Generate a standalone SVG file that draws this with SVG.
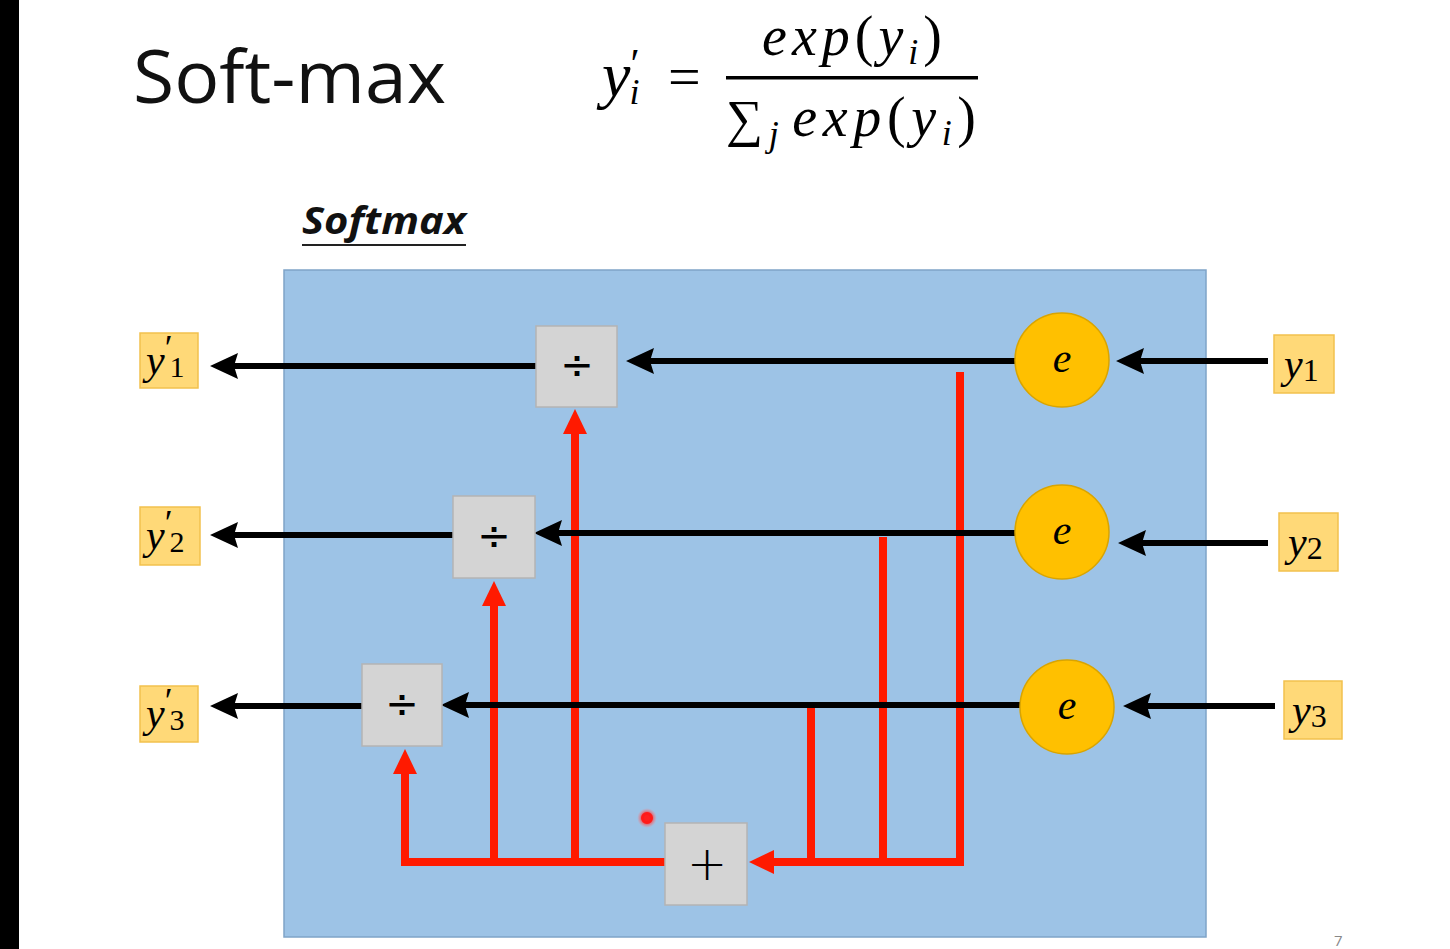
<svg xmlns="http://www.w3.org/2000/svg" width="1450" height="949" viewBox="0 0 1450 949">
<defs>
<style>
.var{font-family:"Liberation Serif","DejaVu Serif",serif;font-style:italic;fill:#000}
.up{font-family:"Liberation Serif","DejaVu Serif",serif;fill:#000}
.lbl{fill:#ffd978;stroke:#f2c14e;stroke-width:1.5}
.op{fill:#d4d4d4;stroke:#b4b4b4;stroke-width:1.5}
.circ{fill:#ffc000;stroke:#d9a400;stroke-width:1.5}
.blk{stroke:#000;stroke-width:6;fill:none;marker-end:url(#ab)}
.red{stroke:#ff1a00;stroke-width:8;fill:none}
.reda{stroke:#ff1a00;stroke-width:8;fill:none;marker-end:url(#ar)}
.sym{font-family:"DejaVu Sans","Liberation Sans",sans-serif;fill:#000;text-anchor:middle}
</style>
<marker id="ab" markerUnits="userSpaceOnUse" markerWidth="30" markerHeight="28" viewBox="0 0 30 28" refX="6" refY="14" orient="auto">
<path d="M0,1 L28,14 L0,27 L4,14 z" fill="#000"/>
</marker>
<marker id="ar" markerUnits="userSpaceOnUse" markerWidth="26" markerHeight="26" viewBox="0 0 26 26" refX="6" refY="13" orient="auto">
<path d="M0,1 L25,13 L0,25 z" fill="#ff1a00"/>
</marker>
<radialGradient id="dot"><stop offset="0.4" stop-color="#ff2020"/><stop offset="1" stop-color="#ff8080" stop-opacity="0"/></radialGradient>
</defs>
<rect x="0" y="0" width="1450" height="949" fill="#fff"/>
<rect x="0" y="0" width="19" height="949" fill="#000"/>

<g id="title">
<text x="133" y="103" font-family="'Open Sans','Noto Sans',sans-serif" font-size="74" fill="#111" textLength="313" lengthAdjust="spacingAndGlyphs">Soft-max</text>
</g>
<g id="formula">
<text x="602" y="96" class="var" font-size="64">y<tspan font-size="42" dx="0" dy="-18" class="up" font-style="normal">′</tspan><tspan font-size="36" dx="-10" dy="26">i</tspan></text>
<text x="668" y="96" class="up" font-size="58">=</text>
<text x="762" y="55" class="var" font-size="56" textLength="180" lengthAdjust="spacing">exp<tspan class="up" font-style="normal">(</tspan>y<tspan font-size="36" dy="9">i</tspan><tspan class="up" font-style="normal" dy="-9">)</tspan></text>
<rect x="726" y="76" width="252" height="3.5" fill="#000"/>
<text x="726" y="136" class="up" font-size="52" textLength="250" lengthAdjust="spacing">∑<tspan class="var" font-size="36" dy="10">j</tspan><tspan class="var" font-size="56" dy="-10" dx="8">exp</tspan><tspan font-size="56">(</tspan><tspan class="var" font-size="56">y</tspan><tspan class="var" font-size="36" dy="9">i</tspan><tspan font-size="56" dy="-9">)</tspan></text>
</g>
<g id="softmax-label">
<text x="302" y="234" font-family="'Open Sans','Noto Sans',sans-serif" font-weight="bold" font-style="italic" font-size="38" fill="#111" textLength="164" lengthAdjust="spacingAndGlyphs">Softmax</text>
<rect x="302" y="244" width="164" height="2" fill="#222"/>
</g>

<g id="softmax-box">
<rect x="284" y="270" width="922" height="667" fill="#9dc3e6" stroke="#7fa4c8" stroke-width="1.5"/>
</g>

<g id="connectors">
<path class="red" d="M960,372 V866"/>
<path class="red" d="M883,537 V866"/>
<path class="red" d="M811,708 V866"/>
<path class="reda" d="M964,862 H768"/>
<path class="red" d="M666,862 H401"/>
<path class="reda" d="M405,866 V768"/>
<path class="reda" d="M494,866 V600"/>
<path class="reda" d="M575,858 V428"/>
<path class="blk" d="M1268,361 H1138"/>
<path class="blk" d="M1268,543 H1140"/>
<path class="blk" d="M1275,706 H1145"/>
<path class="blk" d="M1016,361 H648"/>
<path class="blk" d="M1016,533 H556"/>
<path class="blk" d="M1020,705 H463"/>
<path class="blk" d="M536,366 H232"/>
<path class="blk" d="M453,535 H232"/>
<path class="blk" d="M362,706 H232"/>
</g>

<g id="in-y1"><rect class="lbl" x="1274" y="335" width="60" height="58"/><text x="1284" y="378" class="var" font-size="42">y<tspan class="up" font-style="normal" font-size="32" dy="3">1</tspan></text></g>
<g id="in-y2"><rect class="lbl" x="1279" y="513" width="59" height="58"/><text x="1288" y="556" class="var" font-size="42">y<tspan class="up" font-style="normal" font-size="32" dy="3">2</tspan></text></g>
<g id="in-y3"><rect class="lbl" x="1284" y="681" width="58" height="58"/><text x="1292" y="724" class="var" font-size="42">y<tspan class="up" font-style="normal" font-size="32" dy="3">3</tspan></text></g>

<g id="exp1"><circle class="circ" cx="1062" cy="360" r="47"/><text x="1062" y="372" class="var" font-size="42" text-anchor="middle">e</text></g>
<g id="exp2"><circle class="circ" cx="1062" cy="532" r="47"/><text x="1062" y="544" class="var" font-size="42" text-anchor="middle">e</text></g>
<g id="exp3"><circle class="circ" cx="1067" cy="707" r="47"/><text x="1067" y="719" class="var" font-size="42" text-anchor="middle">e</text></g>

<g id="div1"><rect class="op" x="536" y="326" width="81" height="81"/><text x="577" y="378" class="sym" font-size="40">÷</text></g>
<g id="div2"><rect class="op" x="453" y="496" width="82" height="82"/><text x="494" y="549" class="sym" font-size="40">÷</text></g>
<g id="div3"><rect class="op" x="362" y="664" width="80" height="82"/><text x="402" y="717" class="sym" font-size="40">÷</text></g>

<g id="sum"><rect class="op" x="665" y="823" width="82" height="82"/><text x="707" y="880" class="sym" font-size="48" font-weight="200">+</text></g>

<g id="out-y1"><rect class="lbl" x="140" y="333" width="58" height="55"/><text x="146" y="374" class="var" font-size="42">y<tspan class="up" font-style="normal" font-size="36" dx="0" dy="-14">′</tspan><tspan class="up" font-style="normal" font-size="30" dx="-3" dy="17">1</tspan></text></g>
<g id="out-y2"><rect class="lbl" x="140" y="507" width="60" height="58"/><text x="146" y="549" class="var" font-size="42">y<tspan class="up" font-style="normal" font-size="36" dx="0" dy="-14">′</tspan><tspan class="up" font-style="normal" font-size="30" dx="-3" dy="17">2</tspan></text></g>
<g id="out-y3"><rect class="lbl" x="140" y="686" width="58" height="56"/><text x="146" y="727" class="var" font-size="42">y<tspan class="up" font-style="normal" font-size="36" dx="0" dy="-14">′</tspan><tspan class="up" font-style="normal" font-size="30" dx="-3" dy="17">3</tspan></text></g>

<g id="pointer"><circle cx="647" cy="818" r="10" fill="url(#dot)"/><circle cx="647" cy="818" r="4.5" fill="none" stroke="#ff1a1a" stroke-width="3"/></g>
<g id="page-num"><text x="1334" y="946" font-family="'Open Sans','Noto Sans',sans-serif" font-size="15" fill="#888">7</text></g>
</svg>
